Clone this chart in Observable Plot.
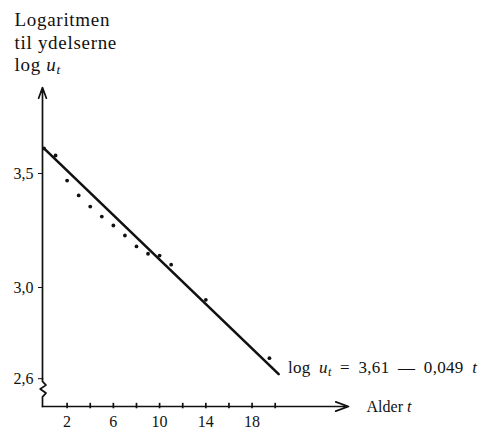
<!DOCTYPE html>
<html>
<head>
<meta charset="utf-8">
<script src="https://cdn.jsdelivr.net/npm/d3@7"></script>
<script src="https://cdn.jsdelivr.net/npm/@observablehq/plot@0.6"></script>
<style>
  html, body { margin: 0; padding: 0; background: #fff; }
  #chart svg { display: block; }
  .eq text { letter-spacing: 0.3px; word-spacing: 4px; }
  .ttl text { letter-spacing: 0.7px; }
</style>
</head>
<body>
<div id="chart"></div>
<script>
// Observed data: age t and logarithm of payments log u_t
const ages = [0, 1, 2, 3, 4, 5, 6, 7, 8, 9, 10, 11, 14, 19.5];
const logValues = [3.61, 3.579, 3.469, 3.404, 3.355, 3.311, 3.272, 3.228, 3.18, 3.148, 3.14, 3.10, 2.946, 2.69];
// Fitted line log u_t = 3.61 - 0.049 t (endpoints)
const fitAges = [0, 20.3];
const fitValues = [3.61, 2.62];
// Axis ticks
const yTicks = [3.5, 3.0, 2.6];
const xLabelTicks = [2, 6, 10, 14, 18];
const xMinorTicks = [2, 4, 6, 8, 10, 12, 14, 16, 18, 20];
// Axis decorations (data units)
const axisT = -0.13;
const axisTop = 3.877;
const axisBottom = 2.478;
const axisRightEnd = 26.34;
const breakT = [-0.13, -0.13, 0.17, -0.33, 0.17, -0.13, -0.13];
const breakV = [2.60, 2.588, 2.572, 2.555, 2.537, 2.52, 2.478];

const points = ages.map((t, i) => ({t, v: logValues[i]}));
const fit = fitAges.map((t, i) => ({t, v: fitValues[i]}));
const brk = breakT.map((t, i) => ({t, v: breakV[i]}));
const font = "'Liberation Serif', 'DejaVu Serif', serif";

const chart = Plot.plot({
  width: 481,
  height: 432,
  marginLeft: 42,
  marginBottom: 26,
  marginTop: 0,
  marginRight: 0,
  style: {fontFamily: font, fontSize: "16px", color: "#111", background: "#fff"},
  x: {domain: [0, 20], range: [43.5, 274.7]},
  y: {domain: [2.6, 3.5], range: [378.2, 173]},
  marks: [
    // vertical axis with arrow
    Plot.arrow([0], {x1: () => axisT, x2: () => axisT, y1: () => 2.60, y2: () => axisTop,
      stroke: "#111", strokeWidth: 1.7, headLength: 10, headAngle: 40}),
    // axis break squiggle
    Plot.line(brk, {x: "t", y: "v", stroke: "#111", strokeWidth: 1.7, curve: "linear"}),
    // horizontal axis with arrow
    Plot.arrow([0], {x1: () => axisT, x2: () => axisRightEnd, y1: () => axisBottom, y2: () => axisBottom,
      stroke: "#111", strokeWidth: 1.7, headLength: 12, headAngle: 40}),
    // x minor ticks
    Plot.ruleX(xMinorTicks, {x: d => d, y1: 2.468, y2: 2.492, stroke: "#111", strokeWidth: 1.7}),
    Plot.axisX(xLabelTicks, {tickSize: 0, tickPadding: 9, fontSize: 16, label: null}),
    Plot.axisY(yTicks, {tickSize: 4, tickPadding: 5, fontSize: 16, label: null,
      tickFormat: d => d.toFixed(1).replace(".", ",")}),
    // fitted line
    Plot.line(fit, {x: "t", y: "v", stroke: "#111", strokeWidth: 2.6}),
    // observations
    Plot.dot(points, {x: "t", y: "v", r: 1.9, fill: "#111", stroke: "none"}),
    // equation label
    Plot.text(["eq"], {x: () => 21.1, y: () => 2.647, text: d => d, textAnchor: "start",
      lineAnchor: "middle", fontSize: 17, className: "eq"}),
    // x axis label
    Plot.text(["alder"], {x: () => 27.9, y: () => axisBottom, text: d => d, textAnchor: "start",
      lineAnchor: "middle", fontSize: 16, className: "alder"}),
    // y axis title
    Plot.text(["Logaritmen"], {x: () => -2.55, y: () => 3.5 + (173 - 19) / 228, text: d => d,
      textAnchor: "start", lineAnchor: "middle", fontSize: 19, className: "ttl"}),
    Plot.text(["til ydelserne"], {x: () => -2.55, y: () => 3.5 + (173 - 42) / 228, text: d => d,
      textAnchor: "start", lineAnchor: "middle", fontSize: 19, className: "ttl"}),
    Plot.text(["ytitle"], {x: () => -2.55, y: () => 3.5 + (173 - 64) / 228, text: d => d,
      textAnchor: "start", lineAnchor: "middle", fontSize: 19, className: "ytitle ttl"})
  ]
});

document.getElementById("chart").appendChild(chart);

// rich text (italic u with subscript t)
function rich(cls, parts) {
  d3.select(chart).selectAll("g." + cls + " text").each(function() {
    const t = d3.select(this);
    t.text(null);
    parts.forEach(p => {
      const s = t.append("tspan").text(p.s);
      if (p.i) s.attr("font-style", "italic");
      if (p.sub) s.attr("baseline-shift", "-25%").attr("font-size", "70%");
    });
  });
}
rich("eq", [
  {s: "log "}, {s: "u", i: true}, {s: "t", i: true, sub: true},
  {s: " = 3,61 \u2014 0,049 "}, {s: "t", i: true}
]);
rich("alder", [{s: "Alder "}, {s: "t", i: true}]);
rich("ytitle", [{s: "log "}, {s: "u", i: true}, {s: "t", i: true, sub: true}]);
</script>
</body>
</html>
